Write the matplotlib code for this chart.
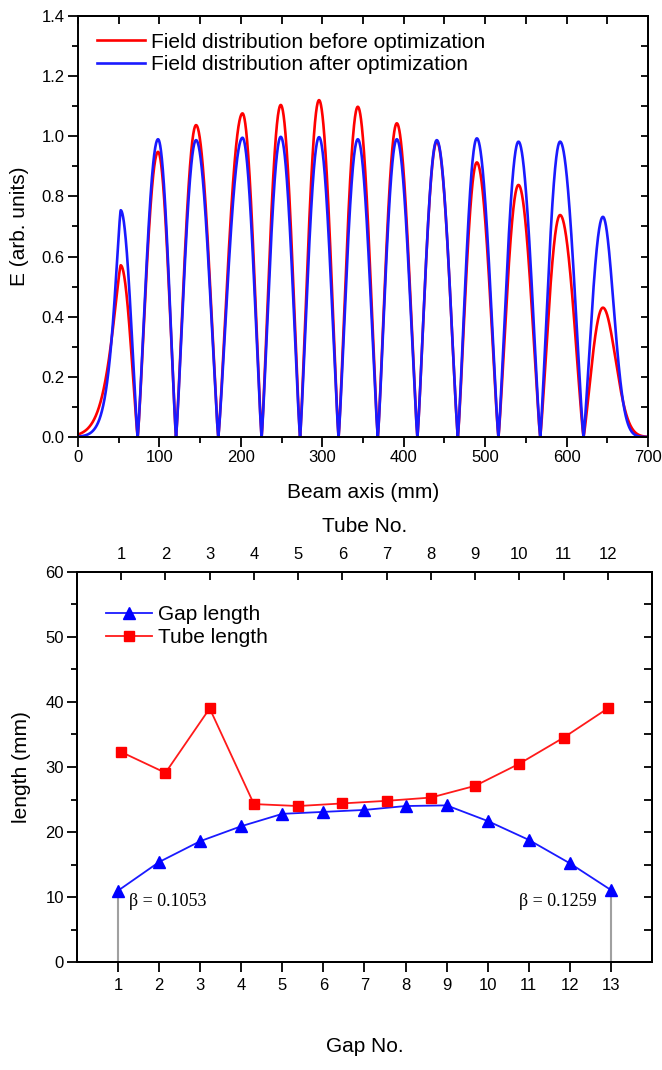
import numpy as np
import matplotlib
matplotlib.use("Agg")
import matplotlib.pyplot as plt
from matplotlib.ticker import MultipleLocator, FormatStrFormatter

plt.rcParams['font.family'] = ['Liberation Sans', 'DejaVu Sans']

# ---- top panel: field along the beam axis (mm) ----
# field zeros between gaps, gap centres and peak heights
field_zeros = [73.3, 120.4, 172.3, 225.5, 272.7, 320.0, 368.2, 416.8, 466.5, 516.3, 567.6, 620.8]
gap_centres = [52.4, 98.3, 145.0, 202.0, 249.0, 296.0, 343.6, 391.5, 440.6, 489.8, 540.9, 592.0, 644.6]
peak_before = [0.571, 0.948, 1.037, 1.076, 1.104, 1.120, 1.098, 1.043, 0.982, 0.913, 0.838, 0.738, 0.430]
peak_after = [0.754, 0.990, 0.987, 0.995, 0.998, 0.997, 0.990, 0.990, 0.987, 0.993, 0.982, 0.982, 0.732]
# fringe-field fall off outside the first / last gap (width mm, exponent)
fringe_before = [(17.3, 1.3), (21.7, 2.0)]
fringe_after = [(12.7, 1.3), (18.3, 2.0)]

# ---- bottom panel: gap and drift tube lengths ----
gap_no = list(range(1, 14))
gap_len = [11.0, 15.4, 18.6, 20.9, 22.8, 23.1, 23.4, 24.0, 24.1, 21.7, 18.8, 15.2, 11.1]
tube_no = list(range(1, 13))
tube_len = [32.3, 29.1, 39.0, 24.3, 24.0, 24.4, 24.8, 25.3, 27.1, 30.5, 34.5, 39.0]
beta_in, beta_out = 0.1053, 0.1259


def field_curve(x, heights, fringe):
    """Build the on-axis field from one lobe per gap, zero at the field_zeros."""
    y = np.zeros_like(x)
    n = len(gap_centres)
    for i in range(n):
        pk, h = gap_centres[i], heights[i]
        # left side
        if i == 0:
            w, k = fringe[0]
            m = x <= pk
            y[m] += h * np.exp(-(np.abs(x[m] - pk) / w) ** k)
        else:
            zl = field_zeros[i - 1]
            m = (x >= zl) & (x <= pk)
            y[m] += h * np.sin(np.pi / 2 * (x[m] - zl) / (pk - zl)) ** 1.2
        # right side
        if i == n - 1:
            w, k = fringe[1]
            m = x > pk
            y[m] += h * np.exp(-(np.abs(x[m] - pk) / w) ** k)
        else:
            zr = field_zeros[i]
            m = (x > pk) & (x < zr)
            y[m] += h * np.sin(np.pi / 2 * (zr - x[m]) / (zr - pk)) ** 1.2
    return y


fig = plt.figure(figsize=(6.62, 10.70), dpi=100)

# ================= top panel =================
ax = fig.add_axes([0.1178, 0.5916, 0.8611, 0.3935])
z = np.linspace(0, 700, 4001)
ax.plot(z, field_curve(z, peak_before, fringe_before), color='#ff0000', lw=1.9,
        label='Field distribution before optimization')
ax.plot(z, field_curve(z, peak_after, fringe_after), color='#1a1aff', lw=1.9,
        label='Field distribution after optimization')
ax.set_xlim(0, 700)
ax.set_ylim(0, 1.4)
ax.xaxis.set_major_locator(MultipleLocator(100))
ax.xaxis.set_minor_locator(MultipleLocator(50))
ax.yaxis.set_major_locator(MultipleLocator(0.2))
ax.yaxis.set_minor_locator(MultipleLocator(0.1))
ax.yaxis.set_major_formatter(FormatStrFormatter('%.1f'))
ax.tick_params(which='major', direction='out', length=7, width=1.3, labelsize=12, pad=2.5)
ax.tick_params(which='minor', direction='out', length=4, width=1.3)
ax.set_xlabel('Beam axis (mm)', fontsize=15, labelpad=13)
ax.set_ylabel('E (arb. units)', fontsize=15, labelpad=9)
for s in ax.spines.values():
    s.set_linewidth(1.4)

top = ax.secondary_xaxis('top')
top.xaxis.set_major_locator(MultipleLocator(50))
top.tick_params(direction='in', length=6, width=1.3, labeltop=False)
top.spines['top'].set_linewidth(1.4)
right = ax.secondary_yaxis('right')
right.yaxis.set_major_locator(MultipleLocator(0.1))
right.tick_params(direction='in', length=5, width=1.3, labelright=False)
right.spines['right'].set_linewidth(1.4)

ax.legend(loc='upper left', bbox_to_anchor=(0.033, 0.96), frameon=False, fontsize=15,
          handlelength=2.3, handletextpad=0.3, labelspacing=0.15, borderpad=0,
          borderaxespad=0)

# ================= bottom panel =================
bx = fig.add_axes([0.1163, 0.1007, 0.8686, 0.3650])
bx.set_xlim(0, 14)
bx.set_ylim(0, 60)

# reference lines down to the axis at the first and last gap
bx.plot([gap_no[0], gap_no[0]], [0, gap_len[0]], color='#a0a0a0', lw=1.5, zorder=1)
bx.plot([gap_no[-1], gap_no[-1]], [0, gap_len[-1]], color='#a0a0a0', lw=1.5, zorder=1)

gap_line, = bx.plot(gap_no, gap_len, color='#1a1aff', lw=1.3, marker='^', ms=9,
                    markerfacecolor='#0000ff', markeredgecolor='#0000ff', zorder=3)

bx.set_xticks(gap_no)
bx.yaxis.set_major_locator(MultipleLocator(10))
bx.yaxis.set_minor_locator(MultipleLocator(5))
bx.tick_params(which='major', direction='out', length=7, width=1.3, labelsize=12, pad=2.5)
bx.tick_params(which='minor', direction='out', length=4, width=1.3)
bx.tick_params(axis='x', pad=4)
bx.set_xlabel('Gap No.', fontsize=15, labelpad=32)
bx.set_ylabel('length (mm)', fontsize=15, labelpad=10)
for s in bx.spines.values():
    s.set_linewidth(1.4)

rb = bx.secondary_yaxis('right')
rb.yaxis.set_major_locator(MultipleLocator(5))
rb.tick_params(direction='in', length=6, width=1.3, labelright=False)
rb.spines['right'].set_linewidth(1.4)

tx = bx.twiny()
tx.set_xlim(0, 13)
tube_line, = tx.plot(tube_no, tube_len, color='#ff1a1a', lw=1.3, marker='s', ms=6.5,
                     markerfacecolor='#ff0000', markeredgecolor='#ff0000', zorder=3)
tx.set_xticks(tube_no)
tx.tick_params(direction='in', length=6, width=1.3, labelsize=12, pad=7)
tx.set_xlabel('Tube No.', fontsize=15, labelpad=11)
for s in tx.spines.values():
    s.set_linewidth(1.4)

bx.text(1.27, 9.3, '\u03b2 = %.4f' % beta_in, fontsize=13, va='center', ha='left',
        family=['Liberation Serif', 'DejaVu Serif'])
bx.text(12.65, 9.3, '\u03b2 = %.4f' % beta_out, fontsize=13, va='center', ha='right',
        family=['Liberation Serif', 'DejaVu Serif'])

tx.legend([gap_line, tube_line], ['Gap length', 'Tube length'], loc='upper left',
          bbox_to_anchor=(0.05, 0.915), frameon=False, fontsize=15, handlelength=2.2,
          handletextpad=0.3, labelspacing=0.2, borderpad=0, borderaxespad=0)

fig.savefig('out.png', dpi=100)
